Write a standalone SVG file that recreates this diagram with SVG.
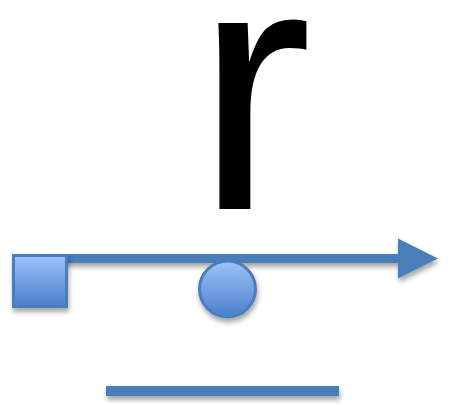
<svg xmlns="http://www.w3.org/2000/svg" width="461" height="405" viewBox="0 0 461 405">
<defs>
<style>
.ln{stroke:#4A7EBB;stroke-width:9;fill:none}
.txt{font-family:"Liberation Sans",Arial,sans-serif;fill:#000}
</style>
<linearGradient id="g" x1="0" y1="0" x2="0" y2="1">
<stop offset="0" stop-color="#9DC3FA"/>
<stop offset="1" stop-color="#4A7FCB"/>
</linearGradient>
<filter id="ds" x="-20%" y="-40%" width="140%" height="200%">
<feDropShadow dx="1" dy="4" stdDeviation="2.5" flood-color="#000" flood-opacity="0.35"/>
</filter>
<marker id="ah" markerUnits="userSpaceOnUse" markerWidth="42" markerHeight="42" refX="0" refY="20" orient="auto" viewBox="0 0 42 40">
<path d="M0,0 L40,20 L0,40 Z" fill="#4A7EBB"/>
</marker>
</defs>
<g id="letter">
<text class="txt" x="195" y="209" font-size="352">r</text>
</g>
<g id="connectors" filter="url(#ds)">
<line class="ln" x1="40" y1="258.5" x2="398" y2="258.5" marker-end="url(#ah)"/>
<rect x="106" y="386" width="233" height="10" fill="#4A7EBB"/>
</g>
<g id="square" filter="url(#ds)">
<rect x="13.5" y="255.5" width="53" height="51" fill="url(#g)" stroke="#4A7EBB" stroke-width="3"/>
</g>
<g id="circle" filter="url(#ds)">
<circle cx="227.5" cy="289" r="28" fill="url(#g)" stroke="#4A7EBB" stroke-width="3"/>
</g>
</svg>
